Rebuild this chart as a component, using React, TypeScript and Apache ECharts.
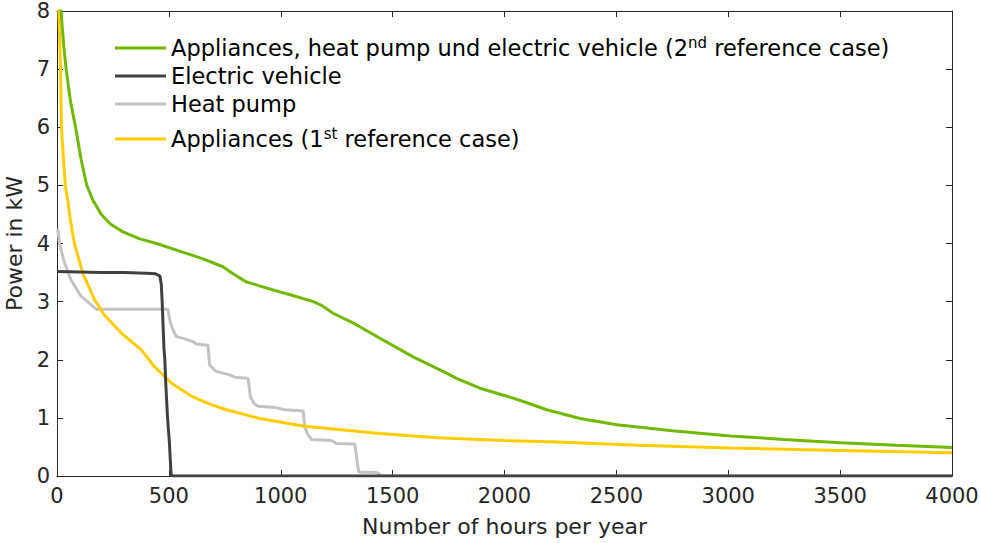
import React, { useEffect, useRef } from "react";
import * as echarts from "echarts";

const totalName = "Appliances, heat pump und electric vehicle (2nd reference case)";
const evName = "Electric vehicle";
const hpName = "Heat pump";
const applName = "Appliances (1st reference case)";

const totalCurve: [number, number][] = [
  [0, 9.0], [18, 8.0], [30, 7.4], [41, 7.0], [60, 6.45], [83, 6.0], [108, 5.44], [133, 5.0],
  [160, 4.75], [198, 4.5], [240, 4.33], [295, 4.2], [370, 4.08], [445, 4.0], [548, 3.87],
  [650, 3.74], [742, 3.6], [790, 3.47], [846, 3.34], [966, 3.2], [1050, 3.11], [1145, 3.0],
  [1180, 2.94], [1234, 2.8], [1330, 2.62], [1443, 2.37], [1592, 2.05], [1741, 1.77],
  [1786, 1.68], [1890, 1.51], [2039, 1.34], [2100, 1.26], [2189, 1.14], [2338, 0.99],
  [2502, 0.88], [2750, 0.78], [3009, 0.69], [3250, 0.63], [3501, 0.57], [3750, 0.53], [4000, 0.49],
];

const evCurve: [number, number][] = [
  [0, 3.52], [100, 3.51], [200, 3.5], [300, 3.5], [400, 3.49], [440, 3.48], [460, 3.44],
  [466, 3.3], [470, 3.0], [474, 2.6], [478, 2.2], [482, 2.0], [486, 1.6], [490, 1.3],
  [494, 1.0], [498, 0.8], [502, 0.6], [506, 0.3], [510, 0.02], [520, 0], [4000, 0],
];

const hpCurve: [number, number][] = [
  [0, 4.25], [4, 4.23], [11, 4.0], [34, 3.66], [63, 3.37], [108, 3.09], [145, 2.97], [175, 2.87],
  [496, 2.87], [503, 2.7], [510, 2.6], [520, 2.5], [533, 2.4], [570, 2.36], [608, 2.31],
  [623, 2.27], [675, 2.25], [682, 1.91], [700, 1.84], [712, 1.8], [772, 1.74], [794, 1.7],
  [854, 1.68], [864, 1.37], [880, 1.25], [898, 1.2], [973, 1.18], [1018, 1.14], [1100, 1.12],
  [1107, 0.85], [1120, 0.72], [1137, 0.63], [1227, 0.61], [1249, 0.56], [1331, 0.55],
  [1345, 0.15], [1349, 0.07], [1428, 0.06], [1445, 0.02], [1460, 0], [4000, 0],
];

const applCurve: [number, number][] = [
  [0, 8.8], [8, 8.0], [16, 7.0], [20, 6.0], [28, 5.5], [37, 5.0], [48, 4.75], [60, 4.4],
  [78, 4.0], [115, 3.49], [168, 3.03], [212, 2.77], [287, 2.46], [377, 2.17], [436, 1.88],
  [511, 1.6], [570, 1.45], [608, 1.36], [680, 1.24], [757, 1.14], [906, 0.99], [1100, 0.86],
  [1279, 0.79], [1443, 0.73], [1700, 0.66], [2000, 0.61], [2203, 0.59], [2600, 0.53],
  [3009, 0.48], [3501, 0.44], [4000, 0.4],
];

const xTicks = { min: 0, max: 4000, interval: 500 };
const yTicks = { min: 0, max: 8, interval: 1 };

const FONT = "DejaVu Sans";
const AX = "#262626";

export default function App() {
  const ref = useRef<HTMLDivElement>(null);
  useEffect(() => {
    if (!ref.current) return;
    const chart = echarts.init(ref.current, undefined, { renderer: "svg" });
    const mkX = (pos: "bottom" | "top", show: boolean) => ({
      type: "value" as const,
      position: pos,
      min: xTicks.min,
      max: xTicks.max,
      interval: xTicks.interval,
      axisLine: { show: true, onZero: false, lineStyle: { color: AX, width: 1 } },
      axisTick: { show: true, inside: true, length: 6, lineStyle: { color: AX } },
      axisLabel: {
        show,
        color: AX,
        fontFamily: FONT,
        fontSize: 21,
        margin: 9,
        formatter: (v: number) => String(v),
      },
      splitLine: { show: false },
      name: show ? "Number of hours per year" : "",
      nameLocation: "middle" as const,
      nameGap: 39,
      nameTextStyle: { color: AX, fontFamily: FONT, fontSize: 22 },
    });
    const mkY = (pos: "left" | "right", show: boolean) => ({
      type: "value" as const,
      position: pos,
      min: yTicks.min,
      max: yTicks.max,
      interval: yTicks.interval,
      axisLine: { show: true, onZero: false, lineStyle: { color: AX, width: 1 } },
      axisTick: { show: true, inside: true, length: 6, lineStyle: { color: AX } },
      axisLabel: {
        show,
        color: AX,
        fontFamily: FONT,
        fontSize: 21,
        margin: 7,
        formatter: (v: number) => String(v),
      },
      splitLine: { show: false },
      name: show ? "Power in kW" : "",
      nameLocation: "middle" as const,
      nameGap: 26,
      nameRotate: 90,
      nameTextStyle: { color: AX, fontFamily: FONT, fontSize: 22 },
    });
    const line = (name: string, data: [number, number][], color: string, z: number) => ({
      name,
      type: "line" as const,
      data,
      symbol: "none",
      showSymbol: false,
      clip: true,
      z,
      lineStyle: { color, width: 3 },
      itemStyle: { color },
    });
    const supStyle = {
      fontSize: 15,
      fontFamily: FONT,
      color: "#000000",
      verticalAlign: "top",
      lineHeight: 15,
    };
    chart.setOption({
      animation: false,
      backgroundColor: "#ffffff",
      grid: {
        left: 57,
        right: 29,
        top: 11,
        bottom: 67,
        containLabel: false,
        outerBoundsMode: "none",
      },
      xAxis: [mkX("bottom", true), mkX("top", false)],
      yAxis: [mkY("left", true), mkY("right", false)],
      legend: {
        orient: "vertical",
        left: 115,
        top: 35,
        padding: 0,
        itemWidth: 51,
        itemHeight: 3,
        itemGap: 2,
        icon: "rect",
        data: [
          { name: totalName },
          { name: evName },
          { name: hpName },
          {
            name: applName,
            textStyle: {
              lineHeight: 40,
              rich: { sup: { ...supStyle, padding: [7, 0, 0, 0] } },
            },
          },
        ],
        formatter: (n: string) =>
          n.replace("(2nd", "(2{sup|nd}").replace("(1st", "(1{sup|st}"),
        textStyle: {
          color: "#000000",
          fontFamily: FONT,
          fontSize: 22.5,
          lineHeight: 26,
          rich: {
            sup: { ...supStyle, padding: [0, 0, 8, 0] },
          },
        },
      },
      series: [
        line(hpName, hpCurve, "#c3c3c3", 2),
        line(applName, applCurve, "#ffcc00", 3),
        line(totalName, totalCurve, "#72b800", 4),
        line(evName, evCurve, "#404040", 5),
      ],
    });
    return () => chart.dispose();
  }, []);
  return <div ref={ref} style={{ width: 981, height: 543, position: "absolute", left: 0, top: 0 }} />;
}
